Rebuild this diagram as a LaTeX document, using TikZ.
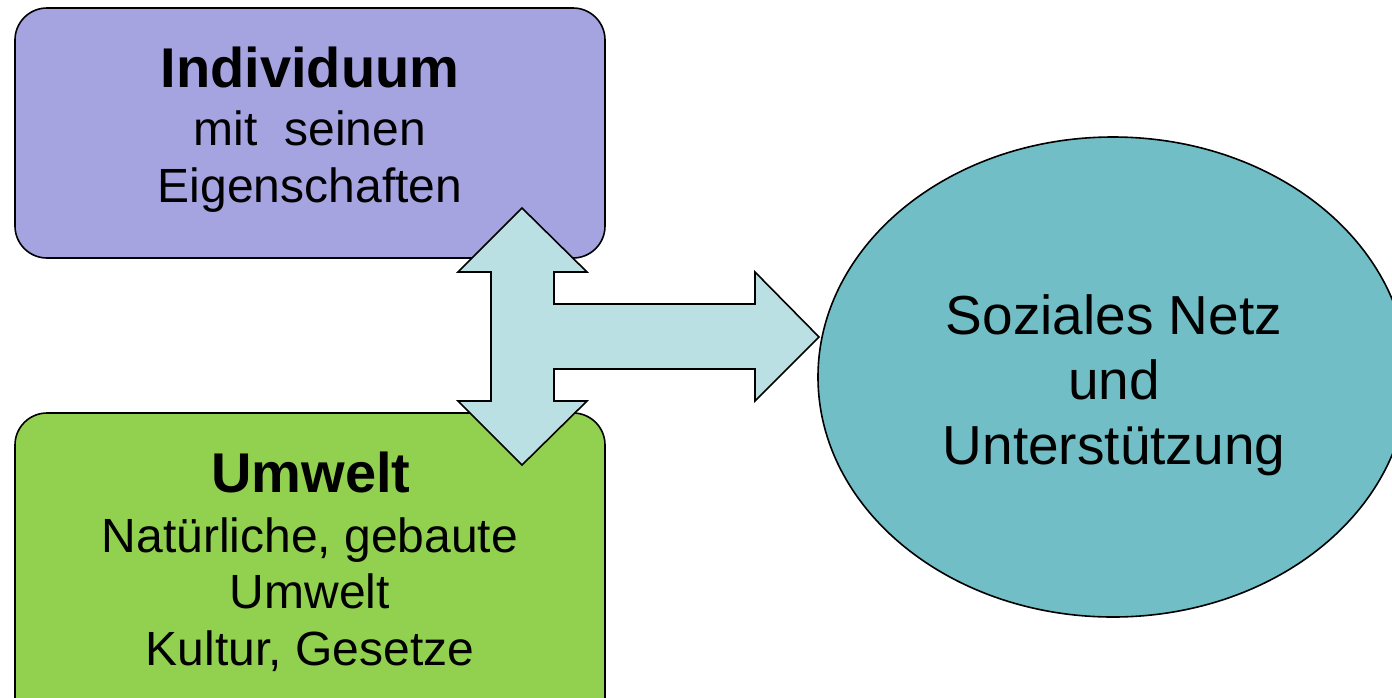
\documentclass[tikz,border=0pt]{standalone}
\usepackage{fontspec}
\setmainfont{Liberation Sans}
\usetikzlibrary{shapes.geometric}
\definecolor{boxpurple}{HTML}{A5A4E0}
\definecolor{boxgreen}{HTML}{92D050}
\definecolor{elliteal}{HTML}{72BEC6}
\definecolor{arrowfill}{HTML}{BBE0E3}
\tikzset{
  panel/.style={draw=black, line width=1.6pt, rounded corners=32pt, minimum width=590pt, minimum height=250pt, inner sep=0pt},
  bigtxt/.style={anchor=base, inner sep=0pt, font=\fontsize{56}{60}\selectfont\bfseries},
  reg/.style={anchor=base, inner sep=0pt, font=\fontsize{48}{57}\selectfont},
  elltxt/.style={anchor=base, inner sep=0pt, font=\fontsize{55}{65}\selectfont},
  shapearrow/.style={draw=black, line width=1.6pt, fill=arrowfill, line join=miter}
}
\begin{document}
\begin{tikzpicture}[x=1pt,y=-1pt]
\useasboundingbox (0,0) rectangle (1392,697);
\begin{scope}
\clip (0,0) rectangle (1392,697);
\node[panel, fill=boxpurple] (indiv) at (310,133) {};
\node[panel, fill=boxgreen, minimum height=330pt] (umwelt) at (310,578) {};
\node[draw=black, line width=1.6pt, fill=elliteal, ellipse, minimum width=590pt, minimum height=480pt, inner sep=0pt] (netz) at (1113,377) {};
\end{scope}
\node[bigtxt] (t1) at (310,87) {Individuum};
\node[reg] (t2) at (310,145) {mit\ \ seinen};
\node[reg] (t3) at (310,202) {Eigenschaften};
\node[bigtxt] (u1) at (311,492) {Umwelt};
\node[reg] (u2) at (310,552) {Natürliche, gebaute};
\node[reg] (u3) at (310,608) {Umwelt};
\node[reg] (u4) at (310,665) {Kultur, Gesetze};
\node[elltxt] (n1) at (1114,334) {Soziales Netz};
\node[elltxt] (n2) at (1114,399) {und};
\node[elltxt] (n3) at (1114,464) {Unterstützung};
\draw[shapearrow] (522,208) -- (587,272) -- (554,272) -- (554,304) -- (755,304) -- (755,272) -- (819,337) -- (755,401) -- (755,369) -- (554,369) -- (554,401) -- (587,401) -- (522,465) -- (458,401) -- (491,401) -- (491,272) -- (458,272) -- cycle;
\end{tikzpicture}
\end{document}
